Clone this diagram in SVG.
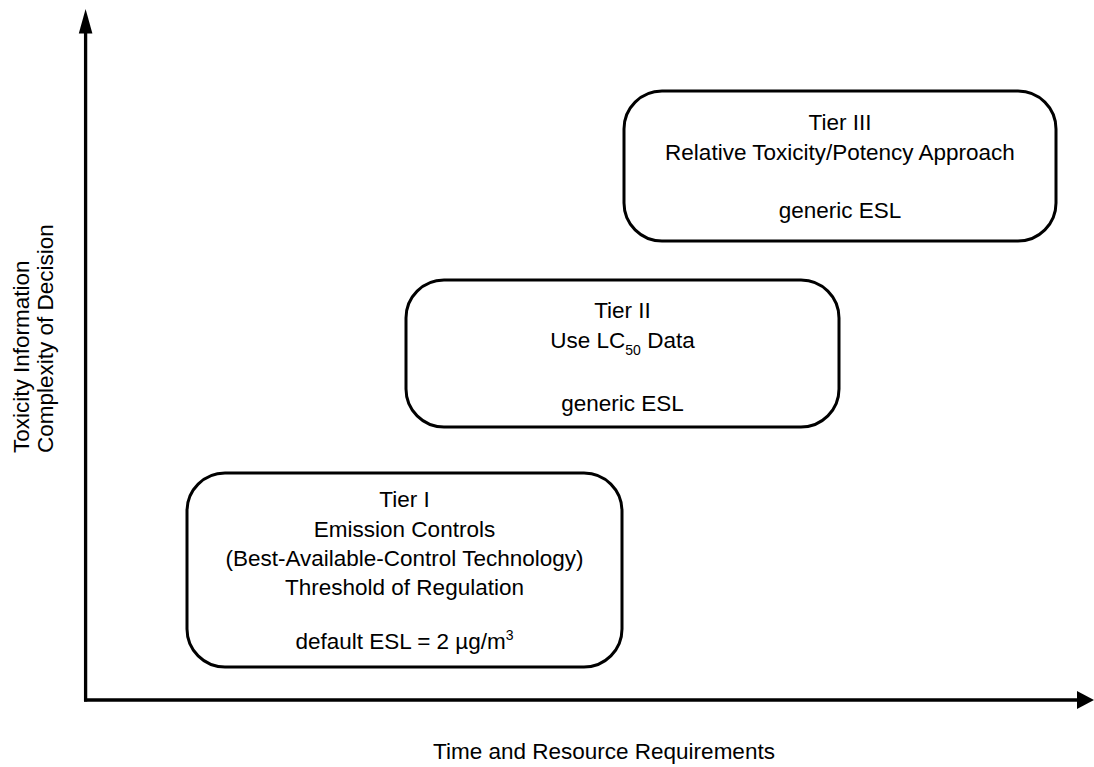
<svg xmlns="http://www.w3.org/2000/svg" width="1094" height="767" viewBox="0 0 1094 767">
<style>
text{font-family:"Liberation Sans",Arial,sans-serif;font-size:22.5px;fill:#000}
.c{text-anchor:middle}
.box{fill:#fff;stroke:#000;stroke-width:3}
.ax{stroke:#000;stroke-width:3.3;fill:none}
.sm{font-size:14px}
</style>
<rect width="1094" height="767" fill="#fff"/>
<g id="axes">
<line class="ax" x1="85.6" y1="30" x2="85.6" y2="701.6"/>
<line class="ax" x1="84" y1="700" x2="1079" y2="700"/>
<polygon points="85.6,9 78.8,33.5 92.4,33.5" fill="#000"/>
<polygon points="1094,700 1077,691 1077,709" fill="#000"/>
</g>
<g id="tier1">
<rect class="box" x="187" y="473" width="435" height="194" rx="38" ry="38"/>
<text class="c" x="404.5" y="506.5">Tier I</text>
<text class="c" x="404.5" y="536.5">Emission Controls</text>
<text class="c" x="404.5" y="566">(Best-Available-Control Technology)</text>
<text class="c" x="404.5" y="595">Threshold of Regulation</text>
<text class="c" x="404.5" y="649">default ESL = 2 µg/m<tspan class="sm" dy="-9">3</tspan></text>
</g>
<g id="tier2">
<rect class="box" x="406" y="280" width="433" height="147" rx="38" ry="38"/>
<text class="c" x="622.5" y="317.5">Tier II</text>
<text class="c" x="622.5" y="347.5">Use LC<tspan class="sm" dy="7">50</tspan><tspan dy="-7"> Data</tspan></text>
<text class="c" x="622.5" y="411">generic ESL</text>
</g>
<g id="tier3">
<rect class="box" x="624" y="91" width="432" height="150" rx="38" ry="38"/>
<text class="c" x="840" y="129.5">Tier III</text>
<text class="c" x="840" y="160">Relative Toxicity/Potency Approach</text>
<text class="c" x="840" y="218">generic ESL</text>
</g>
<g id="labels">
<text transform="translate(29.3,453) rotate(-90)">Toxicity Information</text>
<text transform="translate(53.3,453) rotate(-90)">Complexity of Decision</text>
<text class="c" x="604" y="759">Time and Resource Requirements</text>
</g>
</svg>
